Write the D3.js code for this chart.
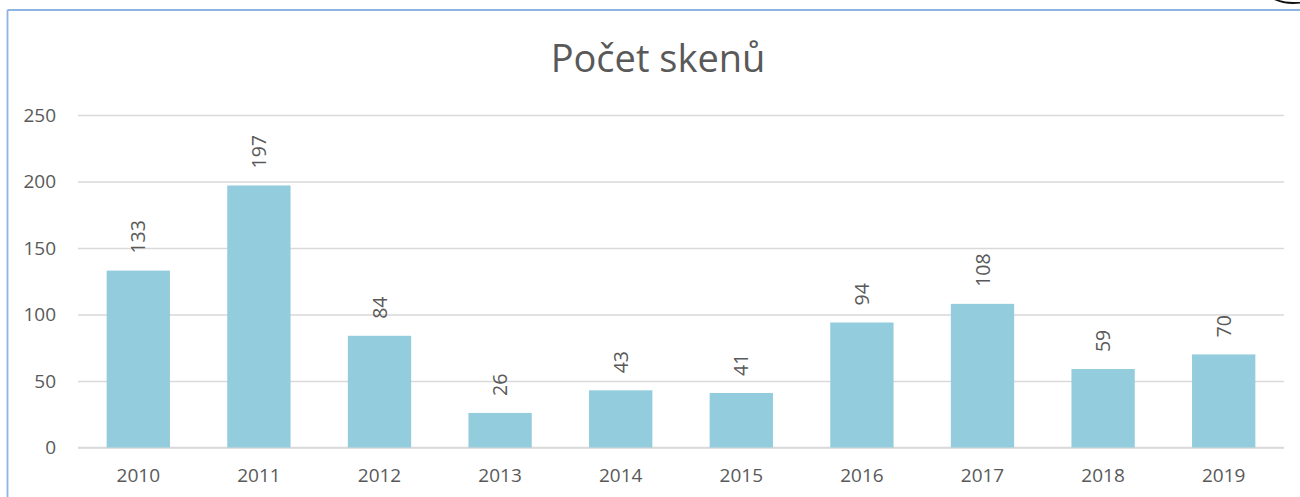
<!DOCTYPE html>
<html>
<head>
<meta charset="utf-8">
<script src="https://cdn.jsdelivr.net/npm/d3@7"></script>
<style>
  html, body { margin: 0; padding: 0; background: #fff; }
  svg { display: block; }
  text { font-family: "Open Sans", "Noto Sans", sans-serif; fill: #595959; }
</style>
</head>
<body>
<svg id="chart" width="1300" height="497"></svg>
<script>
// Počet skenů podle roku
const years = ["2010", "2011", "2012", "2013", "2014", "2015", "2016", "2017", "2018", "2019"];
const scans = [133, 197, 84, 26, 43, 41, 94, 108, 59, 70];
const yTicks = [0, 50, 100, 150, 200, 250];
const title = "Počet skenů";

const svg = d3.select("#chart");
const W = 1300, H = 497;
const plot = { left: 78, right: 1284, top: 115, bottom: 447.5 };

// chart frame (left and top edges visible)
svg.append("line").attr("x1", 7.5).attr("y1", 10).attr("x2", 7.5).attr("y2", H)
  .attr("stroke", "#8db4e2").attr("stroke-width", 1.8);
svg.append("line").attr("x1", 7.5).attr("y1", 10).attr("x2", W).attr("y2", 10)
  .attr("stroke", "#8db4e2").attr("stroke-width", 1.8);

// small arc at the top-right corner
svg.append("ellipse").attr("cx", 1293).attr("cy", -9).attr("rx", 25).attr("ry", 12)
  .attr("fill", "none").attr("stroke", "#111").attr("stroke-width", 1.8);

const x = d3.scaleBand().domain(years).range([plot.left, plot.right]).paddingInner(0.475).paddingOuter(0.2375);
const y = d3.scaleLinear().domain([0, 250]).range([plot.bottom, plot.top]);

// title
svg.append("text").attr("x", 658).attr("y", 72).attr("text-anchor", "middle")
  .style("font-size", "38px").text(title);

// gridlines + y labels
const yAxis = d3.axisLeft(y).tickValues(yTicks).tickSize(-(plot.right - plot.left)).tickPadding(20);
const gy = svg.append("g").attr("transform", `translate(${plot.left},0)`).call(yAxis);
gy.select(".domain").remove();
gy.selectAll(".tick line").attr("stroke", "#d9d9d9").attr("stroke-width", 1.3);
gy.selectAll(".tick text").style("font-size", "19px").style("font-family", "'Open Sans', sans-serif")
  .attr("fill", "#595959").attr("x", -22);

// x labels
const xAxis = d3.axisBottom(x).tickSize(0).tickPadding(20);
const gx = svg.append("g").attr("transform", `translate(0,${plot.bottom})`).call(xAxis);
gx.select(".domain").remove();
gx.selectAll(".tick text").style("font-size", "19px").style("font-family", "'Open Sans', sans-serif")
  .attr("fill", "#595959").attr("dy", "0.75em");

// baseline over grid
svg.append("line").attr("x1", plot.left).attr("x2", plot.right)
  .attr("y1", y(0)).attr("y2", y(0)).attr("stroke", "#d9d9d9").attr("stroke-width", 1.5);

const data = years.map((yr, i) => ({ yr, v: scans[i] }));

svg.append("g").selectAll("rect").data(data).join("rect")
  .attr("x", d => x(d.yr)).attr("width", x.bandwidth())
  .attr("y", d => y(d.v)).attr("height", d => y(0) - y(d.v))
  .attr("fill", "#93cddd");

// value labels, rotated
svg.append("g").selectAll("text").data(data).join("text")
  .attr("transform", d => `translate(${x(d.yr) + x.bandwidth() / 2},${y(d.v) - 17}) rotate(-90)`)
  .attr("dy", "0.36em")
  .style("font-size", "19.5px")
  .text(d => d.v);
</script>
</body>
</html>
